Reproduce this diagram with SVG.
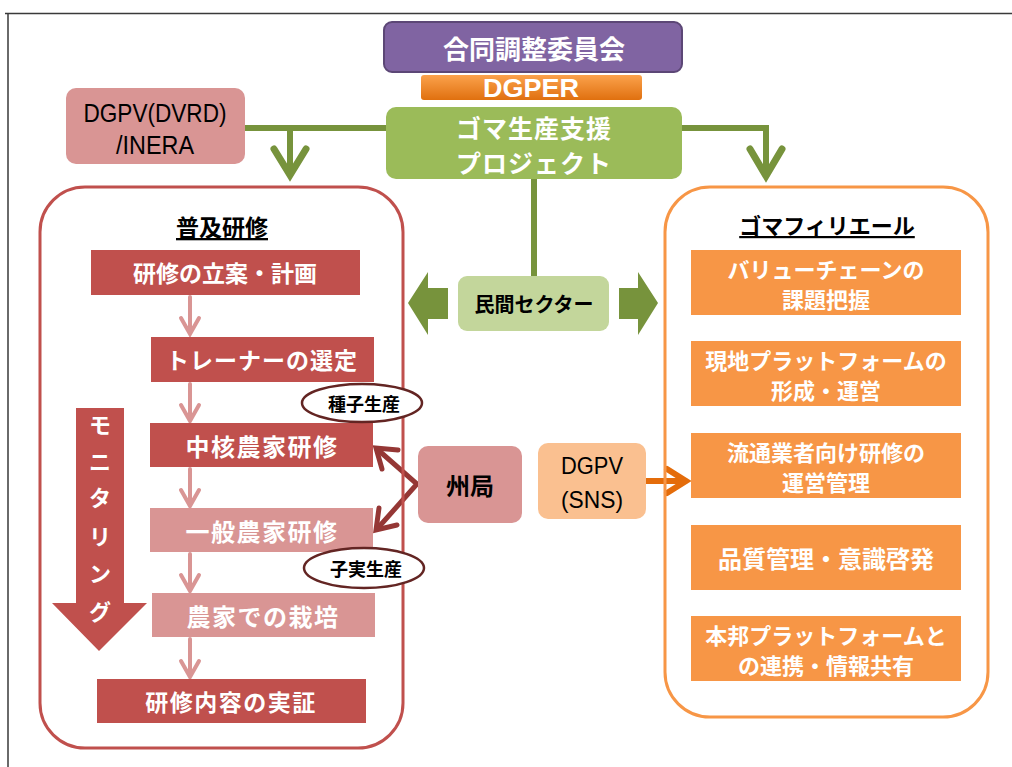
<svg xmlns="http://www.w3.org/2000/svg" width="1012" height="767" viewBox="0 0 1012 767">
<style>
.jp{font-family:'Noto Sans CJK JP','Noto Sans CJK SC',sans-serif;font-weight:bold;text-anchor:middle;dominant-baseline:central}
.w{fill:#fff}
.k{fill:#000}
.lat{font-family:'Liberation Sans',Arial,sans-serif;text-anchor:middle}
.red{fill:#C0504D}
.pink{fill:#D99594}
.org{fill:#F79646}
.g{fill:none;stroke:#77933C;stroke-width:6}
.gh{fill:none;stroke:#77933C;stroke-width:7;stroke-linecap:round;stroke-linejoin:miter}
.pa{fill:none;stroke:#D99594;stroke-width:4;stroke-linecap:round}
.br{fill:none;stroke:#953735;stroke-width:5;stroke-linecap:round;stroke-linejoin:miter}
.oa{fill:none;stroke:#E46C0A;stroke-width:6;stroke-linecap:round}
.ell{fill:#fff;stroke:#632523;stroke-width:2.5}
</style>
<defs>
<linearGradient id="dg" x1="0" y1="0" x2="0" y2="1">
<stop offset="0" stop-color="#FBA24C"/>
<stop offset="1" stop-color="#E0700F"/>
</linearGradient>
</defs>
<rect width="1012" height="767" fill="#fff"/>
<g id="frame">
<path d="M5,13.5 H1012 M8,13 V767" stroke="#3a3a3a" stroke-width="1.5" fill="none"/>
</g>
<g id="connectors">
<path class="g" d="M245,128 H386"/>
<path class="g" d="M290,128 V176"/>
<path class="gh" d="M274,149 L290,175 L306,149"/>
<path class="g" d="M682,128 H766 V176"/>
<path class="gh" d="M750,149 L766,176 L782,149"/>
<path class="g" d="M534,179 V276"/>
<polygon fill="#77933C" points="408,303 428,272 428,288 448,288 448,319 428,319 428,335"/>
<polygon fill="#77933C" points="658,303 638,272 638,288 619,288 619,319 638,319 638,335"/>
<path class="br" d="M377,449 L417,484 L377,529"/>
<path class="br" d="M382,469 L376,448 L398,450"/>
<path class="br" d="M379,508 L376,530 L397,525"/>
<path class="oa" d="M646,481 H685"/>
<path class="oa" d="M667,469 L686,481 L667,493"/>
<path class="pa" d="M190,297 V333 M181,318 L190,334 L199,318"/>
<path class="pa" d="M190,384 V420 M181,405 L190,421 L199,405"/>
<path class="pa" d="M190,469 V505 M181,490 L190,506 L199,490"/>
<path class="pa" d="M190,554 V590 M181,575 L190,591 L199,575"/>
<path class="pa" d="M190,639 V676 M181,661 L190,677 L199,661"/>
</g>
<g id="jcc">
<rect x="384" y="22" width="298" height="50" rx="8" fill="#8064A2" stroke="#5C4776" stroke-width="2"/>
<text class="jp w" x="534" y="47" font-size="26">合同調整委員会</text>
</g>
<g id="dgper">
<rect x="421" y="75" width="221" height="25" rx="3" fill="url(#dg)"/>
<text class="lat w" x="531" y="97" font-size="26" font-weight="bold" textLength="96" lengthAdjust="spacingAndGlyphs">DGPER</text>
</g>
<g id="dgpv-dvrd">
<rect x="66" y="88" width="179" height="76" rx="10" fill="#D99594"/>
<text class="lat k" x="155" y="122" font-size="26" textLength="143" lengthAdjust="spacingAndGlyphs">DGPV(DVRD)</text>
<text class="lat k" x="155" y="154" font-size="26" textLength="78" lengthAdjust="spacingAndGlyphs">/INERA</text>
</g>
<g id="project">
<rect x="386" y="107" width="296" height="72" rx="10" fill="#9BBB59"/>
<text class="jp w" x="534" y="127" font-size="25" letter-spacing="1">ゴマ生産支援</text>
<text class="jp w" x="534" y="162" font-size="25" letter-spacing="1">プロジェクト</text>
</g>
<g id="private">
<rect x="458" y="276" width="151" height="55" rx="9" fill="#C3D69B"/>
<text class="jp k" x="534" y="303" font-size="20">民間セクター</text>
</g>
<g id="state">
<rect x="418" y="446" width="104" height="77" rx="10" fill="#D99594"/>
<text class="jp k" x="470" y="484" font-size="24">州局</text>
</g>
<g id="dgpv-sns">
<rect x="538" y="443" width="108" height="76" rx="10" fill="#FAC090"/>
<text class="lat k" x="592" y="474" font-size="24" textLength="62" lengthAdjust="spacingAndGlyphs">DGPV</text>
<text class="lat k" x="592" y="508" font-size="24" textLength="62" lengthAdjust="spacingAndGlyphs">(SNS)</text>
</g>
<g id="extension">
<rect x="40" y="187" width="363" height="561" rx="45" fill="none" stroke="#C0504D" stroke-width="3"/>
<text class="jp k" x="222" y="226" font-size="23" text-decoration="underline">普及研修</text>
</g>
<g id="monitoring">
<polygon class="red" points="76,408 124,408 124,603 147,603 99,651 52,603 76,603"/>
<text class="jp w" x="100" y="423" font-size="22">モ</text>
<text class="jp w" x="100" y="460" font-size="22">ニ</text>
<text class="jp w" x="100" y="496" font-size="22">タ</text>
<text class="jp w" x="100" y="535" font-size="22">リ</text>
<text class="jp w" x="100" y="572" font-size="22">ン</text>
<text class="jp w" x="100" y="610" font-size="22">グ</text>
</g>
<g id="plan">
<rect class="red" x="91" y="250" width="269" height="45"/>
<text class="jp w" x="225" y="272" font-size="23">研修の立案・計画</text>
</g>
<g id="trainer">
<rect class="red" x="151" y="337" width="223" height="45"/>
<text class="jp w" x="262" y="359" font-size="23" letter-spacing="1">トレーナーの選定</text>
</g>
<g id="core">
<rect class="red" x="150" y="423" width="223" height="44"/>
<text class="jp w" x="262" y="445" font-size="24" letter-spacing="1.5">中核農家研修</text>
</g>
<g id="seed">
<ellipse class="ell" cx="362" cy="403" rx="60" ry="19"/>
<text class="jp k" x="364" y="403" font-size="18">種子生産</text>
</g>
<g id="general">
<rect class="pink" x="150" y="508" width="223" height="44"/>
<text class="jp w" x="262" y="530" font-size="24" letter-spacing="1.5">一般農家研修</text>
</g>
<g id="grain">
<ellipse class="ell" cx="364" cy="568" rx="60" ry="20"/>
<text class="jp k" x="366" y="568" font-size="18">子実生産</text>
</g>
<g id="cultivation">
<rect class="pink" x="152" y="593" width="223" height="44"/>
<text class="jp w" x="263" y="615" font-size="24" letter-spacing="1.5">農家での栽培</text>
</g>
<g id="demo">
<rect class="red" x="97" y="679" width="269" height="44"/>
<text class="jp w" x="231" y="701" font-size="23" letter-spacing="1.5">研修内容の実証</text>
</g>
<g id="filiere">
<rect x="665" y="187" width="323" height="530" rx="45" fill="none" stroke="#F79646" stroke-width="3"/>
<text class="jp k" x="827" y="224" font-size="22" text-decoration="underline">ゴマフィリエール</text>
</g>
<g id="f1">
<rect class="org" x="691" y="250" width="270" height="65"/>
<text class="jp w" x="826" y="268" font-size="22">バリューチェーンの</text>
<text class="jp w" x="826" y="298" font-size="22">課題把握</text>
</g>
<g id="f2">
<rect class="org" x="691" y="341" width="270" height="65"/>
<text class="jp w" x="826" y="359" font-size="22">現地プラットフォームの</text>
<text class="jp w" x="826" y="389" font-size="22">形成・運営</text>
</g>
<g id="f3">
<rect class="org" x="691" y="433" width="270" height="65"/>
<text class="jp w" x="826" y="451" font-size="22">流通業者向け研修の</text>
<text class="jp w" x="826" y="481" font-size="22">運営管理</text>
</g>
<g id="f4">
<rect class="org" x="691" y="525" width="270" height="65"/>
<text class="jp w" x="826" y="557" font-size="24">品質管理・意識啓発</text>
</g>
<g id="f5">
<rect class="org" x="691" y="616" width="270" height="65"/>
<text class="jp w" x="826" y="634" font-size="22">本邦プラットフォームと</text>
<text class="jp w" x="826" y="664" font-size="22">の連携・情報共有</text>
</g>
</svg>
